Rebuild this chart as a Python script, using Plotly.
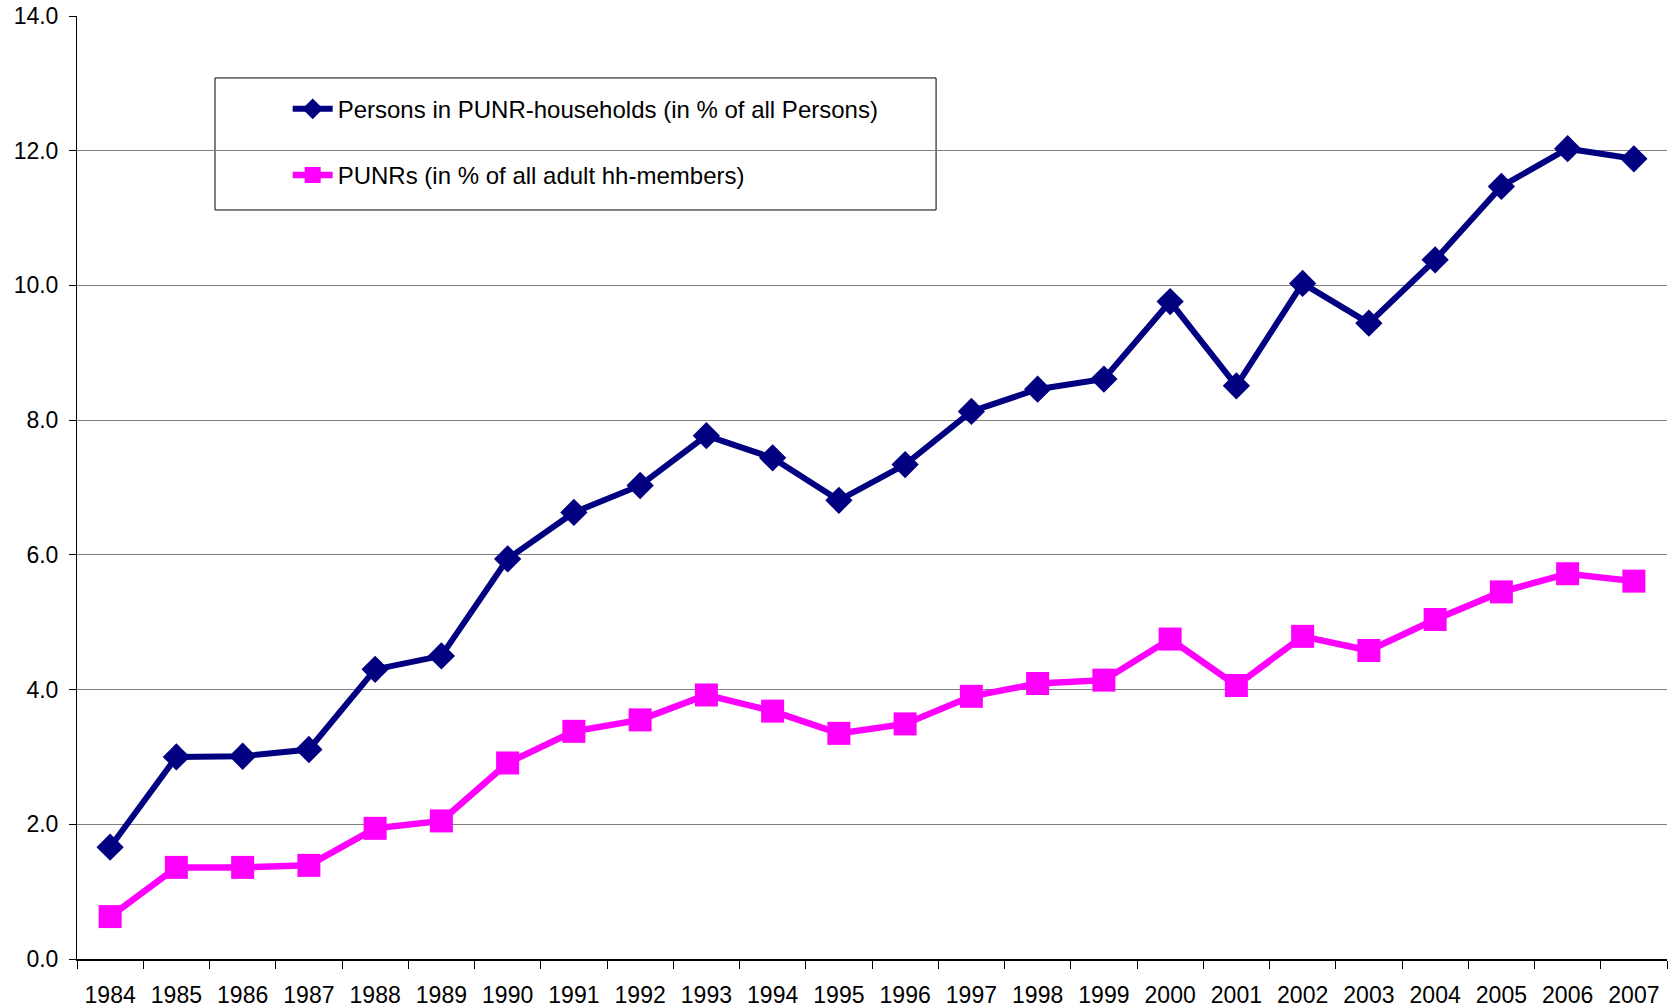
import plotly.graph_objects as go

years = [str(y) for y in range(1984, 2008)]
persons_in_punr_hh = [1.66, 3.00, 3.01, 3.11, 4.30, 4.50, 5.94, 6.63, 7.03, 7.77, 7.44, 6.81,
                      7.34, 8.13, 8.46, 8.61, 9.76, 8.51, 10.03, 9.44, 10.38, 11.47, 12.03, 11.88]
punrs_adult = [0.63, 1.36, 1.36, 1.39, 1.94, 2.05, 2.91, 3.38, 3.55, 3.92, 3.68, 3.35,
               3.49, 3.90, 4.09, 4.14, 4.75, 4.06, 4.79, 4.58, 5.04, 5.45, 5.72, 5.61]
y_ticks = [0, 2, 4, 6, 8, 10, 12, 14]

FONT = "Liberation Sans, Arial, sans-serif"

fig = go.Figure()
fig.add_trace(go.Scatter(
    x=years, y=persons_in_punr_hh, mode="lines+markers",
    name="Persons in PUNR-households (in % of all Persons)",
    line=dict(color="#000080", width=6),
    marker=dict(symbol="diamond", size=21, color="#000080"),
    legendgroup="a",
))
fig.add_trace(go.Scatter(
    x=years, y=punrs_adult, mode="lines+markers",
    name="PUNRs (in % of all adult hh-members)",
    line=dict(color="#FF00FF", width=6.5),
    marker=dict(symbol="square", size=23, color="#FF00FF"),
    legendgroup="b",
))

# legend frame
fig.add_shape(type="rect", xref="paper", yref="paper",
              x0=0.0868, x1=0.5403, y0=0.7943, y1=0.9343,
              line=dict(color="#000000", width=1), fillcolor="white", layer="between")

fig.update_layout(
    width=1668, height=1008,
    margin=dict(l=77, r=1, t=16, b=49),
    paper_bgcolor="white", plot_bgcolor="white",
    font=dict(family=FONT, size=22, color="black"),
    showlegend=True,
    legend=dict(x=0.1325, y=0.925, xanchor="left", yanchor="top",
                bgcolor="rgba(0,0,0,0)", borderwidth=0,
                font=dict(family=FONT, size=24, color="black"),
                tracegroupgap=32, itemwidth=40),
    xaxis=dict(type="category", showgrid=False, showline=True, linecolor="black", linewidth=1.5,
               ticks="outside", ticklen=8, tickcolor="black", tickson="boundaries",
               tickfont=dict(family=FONT, size=23), ticklabelstandoff=15,
               range=[-0.5, 23.5]),
    yaxis=dict(range=[0, 14], tickvals=y_ticks, tickformat=".1f", showgrid=True,
               gridcolor="#808080", gridwidth=1, showline=True, linecolor="black", linewidth=1,
               ticks="outside", ticklen=7, tickcolor="black", zeroline=False,
               tickfont=dict(family=FONT, size=23), ticklabelstandoff=6),
)

fig.write_html("out.html", config={"displayModeBar": False},
               post_script="document.body.style.margin='0';document.body.style.overflow='hidden';")
